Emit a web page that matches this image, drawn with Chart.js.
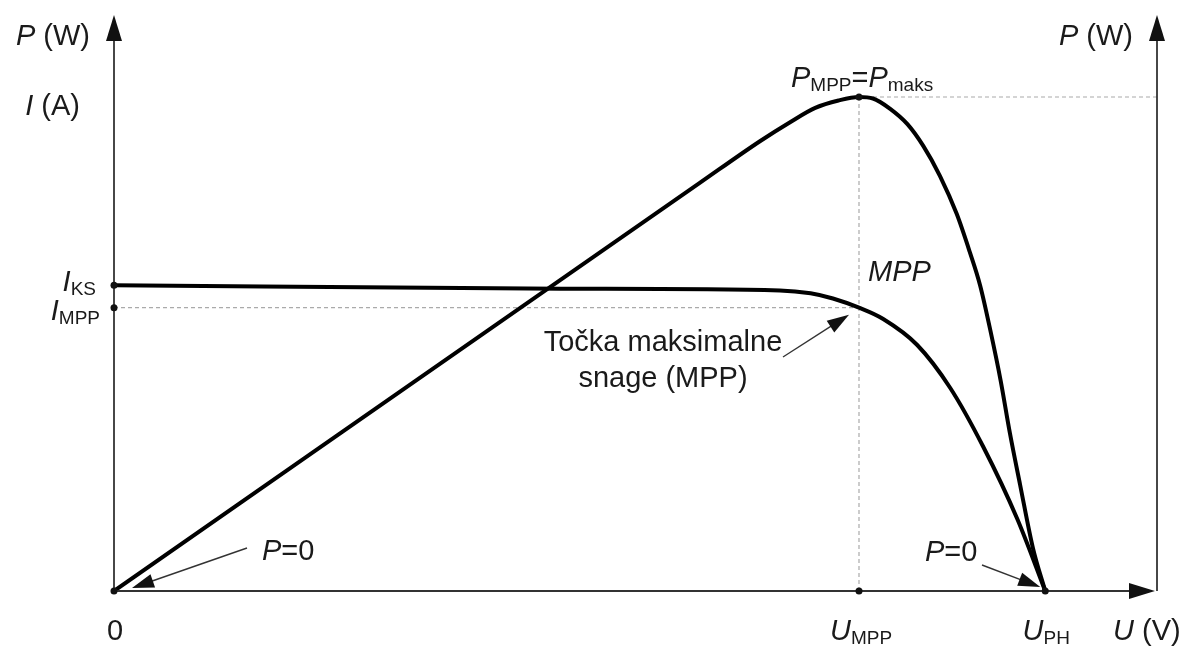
<!DOCTYPE html>
<html>
<head>
<meta charset="utf-8">
<script src="https://cdn.jsdelivr.net/npm/chart.js@4.4.1/dist/chart.umd.min.js"></script>
<style>
  body { margin: 0; background: #fff; }
  #wrap { width: 1192px; height: 646px; }
</style>
</head>
<body>
<div id="wrap"><canvas id="chart"></canvas></div>
<script>
// I-U curve (current vs voltage), arbitrary units, U_PH = 100
const uIV = [0, 48, 71.5, 74.8, 77.2, 80, 82.6, 86.25, 89.8, 93.3, 97.0, 100];
const iIV = [61.9, 61.2, 60.85, 60.26, 59.21, 57.35, 55.06, 49.8, 41.1, 29.35, 14.57, 0];

// P-U curve (power vs voltage), P_MPP = 100
const uPV = [0, 62.9, 69.4, 72.6, 75.3, 77.8, 80, 81.5, 83.35, 85.2, 86.9, 88.7, 90.5, 91.9, 93.0, 94.1, 95.2, 96.2, 97.3, 98.7, 100];
const pPV = [0, 82.6, 91.1, 94.9, 97.8, 99.3, 100, 99.7, 97.6, 94.5, 90.1, 84.0, 76.3, 68.6, 61.9, 52.8, 42.7, 32.0, 21.5, 8.5, 0];

// special values
const U_MPP = 80, U_PH = 100, U_MAX = 112;
const I_KS = 61.9, I_MPP = 57.35, P_MAX = 100, Y_MAX = 116.6;

// axis / tick labels
const xTickLabels = ['0', 'U|MPP', 'U|PH'];
const yTickLabels = ['I|KS', 'I|MPP'];

const FONT = '"Liberation Sans", Arial, sans-serif';
const SIZE = 29, SUB = 19;

// draws text made of parts: {t, it (italic), sub (subscript)}
function rich(ctx, parts, x, y, align) {
    let w = 0;
    parts.forEach(p => {
        ctx.font = (p.it ? 'italic ' : '') + (p.sub ? SUB : SIZE) + 'px ' + FONT;
        p.w = ctx.measureText(p.t).width;
        w += p.w;
    });
    let cx = align === 'right' ? x - w : align === 'center' ? x - w / 2 : x;
    ctx.textAlign = 'left';
    ctx.textBaseline = 'alphabetic';
    parts.forEach(p => {
        ctx.font = (p.it ? 'italic ' : '') + (p.sub ? SUB : SIZE) + 'px ' + FONT;
        ctx.fillText(p.t, cx, y + (p.sub ? 4 : 0));
        cx += p.w;
    });
}

// "U|MPP" -> italic U with subscript MPP
function symbol(label) {
    const s = label.split('|');
    const parts = [{t: s[0], it: s[0] !== '0'}];
    if (s[1]) parts.push({t: s[1], sub: true});
    return parts;
}

function arrow(ctx, x1, y1, x2, y2, len, half) {
    const a = Math.atan2(y2 - y1, x2 - x1);
    ctx.beginPath();
    ctx.moveTo(x1, y1);
    ctx.lineTo(x2 - Math.cos(a) * len * 0.8, y2 - Math.sin(a) * len * 0.8);
    ctx.stroke();
    ctx.beginPath();
    ctx.moveTo(x2, y2);
    ctx.lineTo(x2 - Math.cos(a) * len - Math.sin(a) * half, y2 - Math.sin(a) * len + Math.cos(a) * half);
    ctx.lineTo(x2 - Math.cos(a) * len + Math.sin(a) * half, y2 - Math.sin(a) * len - Math.cos(a) * half);
    ctx.closePath();
    ctx.fill();
}

function dot(ctx, x, y) {
    ctx.beginPath();
    ctx.arc(x, y, 3.5, 0, Math.PI * 2);
    ctx.fill();
}

const drawing = {
    id: 'drawing',
    beforeDatasetsDraw(chart) {
        const ctx = chart.ctx;
        const X = v => chart.scales.x.getPixelForValue(v);
        const Y = v => chart.scales.y.getPixelForValue(v);
        ctx.save();
        ctx.strokeStyle = '#aaa';
        ctx.lineWidth = 1.2;
        ctx.setLineDash([4, 3]);
        ctx.beginPath();
        ctx.moveTo(X(U_MPP), Y(P_MAX)); ctx.lineTo(X(U_MPP), Y(0));
        ctx.moveTo(X(U_MPP), Y(P_MAX)); ctx.lineTo(X(U_MAX), Y(P_MAX));
        ctx.moveTo(X(0), Y(I_MPP)); ctx.lineTo(X(U_MPP), Y(I_MPP));
        ctx.stroke();
        ctx.restore();
    },
    afterDatasetsDraw(chart) {
        const ctx = chart.ctx;
        const X = v => chart.scales.x.getPixelForValue(v);
        const Y = v => chart.scales.y.getPixelForValue(v);
        const x0 = X(0), y0 = Y(0), xR = X(U_MAX), yT = Y(Y_MAX);
        ctx.save();
        // axes
        ctx.strokeStyle = '#333';
        ctx.fillStyle = '#111';
        ctx.lineWidth = 1.8;
        arrow(ctx, x0, y0, x0, yT, 26, 8);
        arrow(ctx, xR, y0, xR, yT, 26, 8);
        arrow(ctx, x0, y0, xR - 2, y0, 26, 8);

        // annotation arrows
        ctx.lineWidth = 1.4;
        arrow(ctx, 247, 548, x0 + 18, y0 - 3, 22, 7);
        arrow(ctx, 982, 565, X(U_PH) - 5, y0 - 4, 22, 7);
        arrow(ctx, 783, 357, X(U_MPP) - 10, Y(I_MPP) + 7, 22, 7);

        // dots
        [[0, I_KS], [0, I_MPP], [0, 0], [U_MPP, 0], [U_PH, 0], [U_MPP, P_MAX]].forEach(p => dot(ctx, X(p[0]), Y(p[1])));

        // text
        ctx.fillStyle = '#1a1a1a';
        const base = y0 + 49;
        rich(ctx, symbol(xTickLabels[0]), x0 + 1, base, 'center');
        rich(ctx, symbol(xTickLabels[1]), X(U_MPP) + 2, base, 'center');
        rich(ctx, symbol(xTickLabels[2]), X(U_PH) + 1, base, 'center');
        rich(ctx, [{t: 'U', it: true}, {t: ' (V)'}], xR - 44, base, 'left');

        rich(ctx, symbol(yTickLabels[0]), x0 - 18, Y(I_KS) + 6, 'right');
        rich(ctx, symbol(yTickLabels[1]), x0 - 14, Y(I_MPP) + 12, 'right');

        rich(ctx, [{t: 'P', it: true}, {t: ' (W)'}], x0 - 24, yT + 30, 'right');
        rich(ctx, [{t: 'I', it: true}, {t: ' (A)'}], x0 - 34, yT + 100, 'right');
        rich(ctx, [{t: 'P', it: true}, {t: ' (W)'}], xR - 24, yT + 30, 'right');

        rich(ctx, [{t: 'P', it: true}, {t: 'MPP', sub: true}, {t: '='}, {t: 'P', it: true}, {t: 'maks', sub: true}],
            X(U_MPP) - 68, Y(P_MAX) - 10, 'left');
        rich(ctx, [{t: 'MPP', it: true}], X(U_MPP) + 9, Y(I_MPP) - 27, 'left');
        rich(ctx, [{t: 'Točka maksimalne'}], 663, 351, 'center');
        rich(ctx, [{t: 'snage (MPP)'}], 663, 387, 'center');
        rich(ctx, [{t: 'P', it: true}, {t: '=0'}], 262, 560, 'left');
        rich(ctx, [{t: 'P', it: true}, {t: '=0'}], 925, 561, 'left');
        ctx.restore();
    }
};

const toPoints = (xs, ys) => xs.map((v, i) => ({x: v, y: ys[i]}));

new Chart(document.getElementById('chart'), {
    type: 'line',
    data: {
        datasets: [
            {
                label: 'I(U)',
                data: toPoints(uIV, iIV),
                borderColor: '#000',
                borderWidth: 4,
                pointRadius: 0,
                cubicInterpolationMode: 'monotone',
                fill: false
            },
            {
                label: 'P(U)',
                data: toPoints(uPV, pPV),
                borderColor: '#000',
                borderWidth: 4,
                pointRadius: 0,
                cubicInterpolationMode: 'monotone',
                fill: false
            }
        ]
    },
    options: {
        responsive: true,
        maintainAspectRatio: false,
        animation: false,
        layout: {padding: {left: 114, right: 35, top: 15, bottom: 55}},
        plugins: {legend: {display: false}, tooltip: {enabled: false}},
        scales: {
            x: {type: 'linear', min: 0, max: U_MAX, display: false},
            y: {type: 'linear', min: 0, max: Y_MAX, display: false}
        }
    },
    plugins: [drawing]
});
</script>
</body>
</html>
